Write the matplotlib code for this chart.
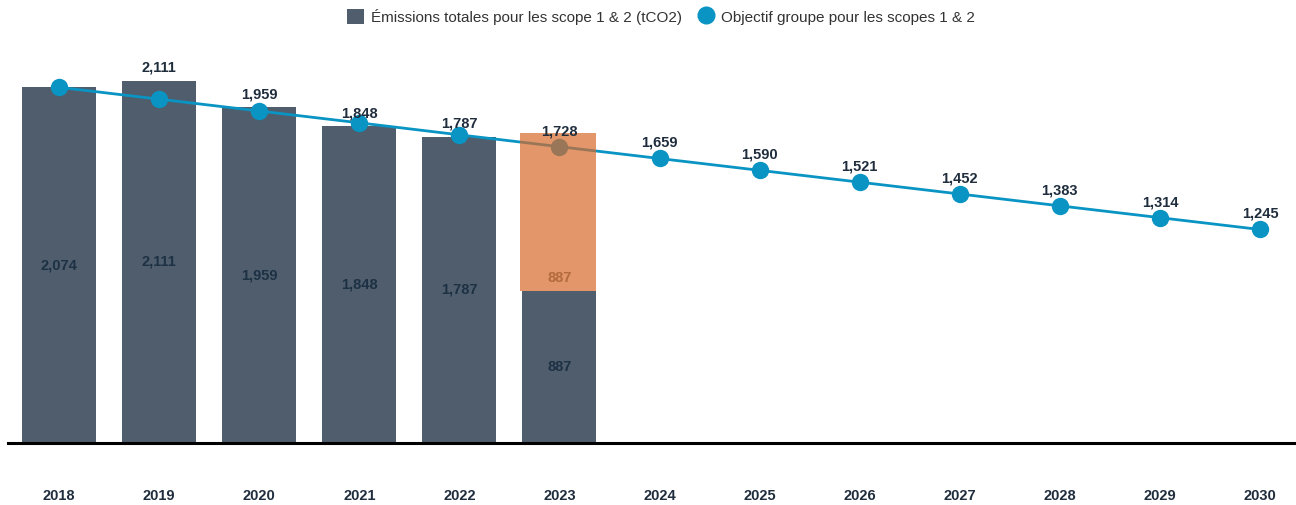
import numpy as np
import matplotlib.pyplot as plt
from matplotlib.lines import Line2D
from matplotlib.patches import Patch

plt.rcParams['font.family'] = ['Liberation Sans', 'DejaVu Sans']

# Données
annees = [2018, 2019, 2020, 2021, 2022, 2023, 2024, 2025, 2026, 2027, 2028, 2029, 2030]
emissions = [2074, 2111, 1959, 1848, 1787, 887]
# segment orange (survol) sur 2023, hauteur estimée
surcouche_2023 = 921
surcouche_label = "887"
objectif = [2074, 2005, 1936, 1867, 1797, 1728, 1659, 1590, 1521, 1452, 1383, 1314, 1245]
# étiquettes au-dessus des barres (2019-2022) et de la courbe (2023-2030)
labels_barres = [1, 2, 3, 4]
labels_courbe = [5, 6, 7, 8, 9, 10, 11, 12]

gris = '#4f5d6c'
bleu = '#0994c4'
texte = '#1f2d3d'
fs = 10.5

fig = plt.figure(figsize=(12.96, 5.05), dpi=100)
ax = fig.add_axes([8 / 1296, 62 / 505, 1 - 8 / 1296, 403 / 505])

x = np.arange(len(annees))
xb = x[:len(emissions)]
ax.bar(xb, emissions, width=0.74, color=gris, zorder=2)

# valeurs au milieu des barres
for xi, v in zip(xb, emissions):
    ax.text(xi, v / 2, f"{v:,}", ha='center', va='center', fontsize=fs,
            fontweight='bold', color='#1d3145', zorder=3)

# valeurs au-dessus des barres
for i in labels_barres:
    ax.text(x[i], emissions[i] + 35, f"{emissions[i]:,}", ha='center', va='bottom',
            fontsize=fs, fontweight='bold', color=texte, zorder=6)

# courbe objectif
ax.plot(x, objectif, color=bleu, lw=2, marker='o', markersize=11.5, zorder=4)
for i in labels_courbe:
    ax.text(x[i], objectif[i] + 50, f"{objectif[i]:,}", ha='center', va='bottom',
            fontsize=fs, fontweight='bold', color=texte, zorder=6)

# surcouche orange 2023
i23 = annees.index(2023)
ax.bar(x[i23] - 0.01, surcouche_2023, bottom=emissions[i23], width=0.76,
       color='#d76a2a', alpha=0.7, zorder=5)
ax.text(x[i23], emissions[i23] + 75, surcouche_label, ha='center', va='center',
        fontsize=fs, fontweight='bold', color='#b36a3c', zorder=6)

ax.set_xlim(-0.51, 12.36)
ax.set_ylim(0, 2350)
ax.set_yticks([])
ax.set_xticks(x)
ax.set_xticklabels(annees, fontsize=fs, fontweight='bold', color=texte)
ax.tick_params(axis='x', length=0, pad=33)
for s in ['top', 'right', 'left']:
    ax.spines[s].set_visible(False)
ax.spines['bottom'].set_linewidth(2.2)
ax.spines['bottom'].set_color('black')
ax.spines['bottom'].set_zorder(7)

handles = [
    Patch(facecolor=gris, label='Émissions totales pour les scope 1 & 2 (tCO2)'),
    Line2D([], [], marker='o', color='none', markerfacecolor=bleu, markeredgecolor=bleu,
           markersize=12, label='Objectif groupe pour les scopes 1 & 2'),
]
fig.legend(handles=handles, loc='upper center', bbox_to_anchor=(0.51, 1.01), ncol=2,
           frameon=False, fontsize=11, handlelength=1.1, handleheight=1.1,
           columnspacing=1.0, handletextpad=0.45, labelcolor='#333333')

fig.savefig('out.png', dpi=100)
